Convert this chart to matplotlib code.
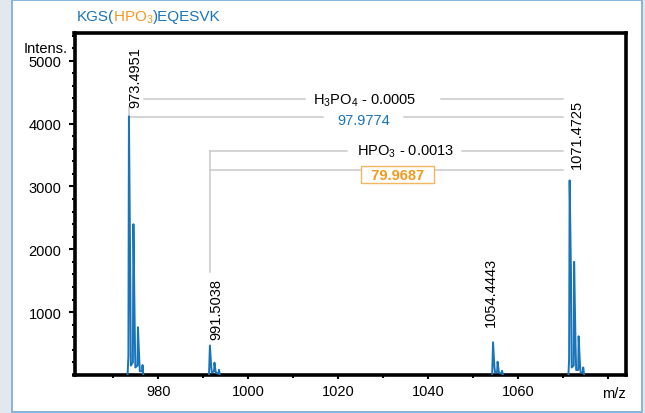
import matplotlib
matplotlib.use('Agg')
import matplotlib.pyplot as plt
from matplotlib.patches import Rectangle
from matplotlib.ticker import MultipleLocator

plt.rcParams['font.family'] = ['Liberation Sans', 'DejaVu Sans']
plt.rcParams['mathtext.fontset'] = 'custom'
plt.rcParams['mathtext.rm'] = 'Liberation Sans'

# profile spectrum (m/z, intensity)
c973_mz = [973.20, 973.38, 973.50, 973.80, 973.92, 974.38, 974.50, 974.80, 974.92,
           975.40, 975.50, 975.80, 975.92, 976.42, 976.52, 976.70]
c973_int = [0, 300, 4115, 1550, 150, 200, 2400, 700, 120,
            150, 760, 250, 60, 60, 158, 0]
c991_mz = [991.30, 991.50, 991.80, 991.95, 992.42, 992.51, 992.80, 993.40, 993.51, 993.70]
c991_int = [0, 470, 120, 40, 60, 195, 40, 20, 83, 0]
c1054_mz = [1054.25, 1054.44, 1054.75, 1054.90, 1055.35, 1055.45, 1055.75, 1056.35, 1056.45, 1056.65]
c1054_int = [0, 520, 130, 40, 50, 211, 40, 20, 67, 0]
c1071_mz = [1071.20, 1071.35, 1071.47, 1071.80, 1071.92, 1072.38, 1072.47, 1072.78, 1072.92,
            1073.38, 1073.47, 1073.78, 1073.92, 1074.40, 1074.49, 1074.70]
c1071_int = [0, 250, 3096, 1480, 120, 150, 1800, 500, 80,
             80, 616, 150, 40, 40, 120, 0]

peak_labels = ['973.4951', '991.5038', '1054.4443', '1071.4725']
peak_mz = [973.4951, 991.5038, 1054.4443, 1071.4725]
peak_int = [4115, 470, 520, 3096]

xticks = [980, 1000, 1020, 1040, 1060, 1080]
xticklabels = ['980', '1000', '1020', '1040', '1060', '']
yticks = [1000, 2000, 3000, 4000, 5000]

blue = '#1a74ba'
orange = '#f29a1f'
grey = '#c9c9c9'

fig = plt.figure(figsize=(6.45, 4.14), dpi=100)
fig.patch.set_facecolor('#e3e8ee')
fig.patches.append(Rectangle((12 / 645, 1 / 414), 630 / 645, 412 / 414, transform=fig.transFigure,
                             facecolor='white', edgecolor='#86b4db', linewidth=1.4, zorder=-5))

ax = fig.add_axes([74.5 / 645, 38 / 414, 551.5 / 645, 342.5 / 414])
ax.set_xlim(961.4, 1084)
ax.set_ylim(0, 5450)

for mz, inten in [(c973_mz, c973_int), (c991_mz, c991_int), (c1054_mz, c1054_int), (c1071_mz, c1071_int)]:
    ax.plot(mz, inten, color=blue, lw=1.4, zorder=3)

for s in ax.spines.values():
    s.set_linewidth(2.6)
ax.set_xticks(xticks)
ax.set_xticklabels(xticklabels)
ax.set_yticks(yticks)
ax.xaxis.set_minor_locator(MultipleLocator(10))
ax.yaxis.set_minor_locator(MultipleLocator(200))
ax.tick_params(axis='both', which='major', direction='out', width=1.5, labelsize=10.5)
ax.tick_params(axis='x', which='major', length=3.2, pad=3.5)
ax.tick_params(axis='y', which='major', length=4, pad=5.5)
ax.tick_params(axis='x', which='minor', length=2, width=1.5)
ax.tick_params(axis='y', which='minor', length=2.5, width=1.5)

ax.text(-0.012, 0.955, 'Intens.', transform=ax.transAxes, ha='right', va='center', fontsize=10.5)
ax.text(1.0, -0.052, 'm/z', transform=ax.transAxes, ha='right', va='center', fontsize=10.5)

# peak labels
label_bottom = [4259, 574, 787, 3299]
label_dx = [-1, -1, -9, 0]
for lab, mz, yb, dx in zip(peak_labels, peak_mz, label_bottom, label_dx):
    ax.annotate(lab, xy=(mz, yb), xytext=(dx, 0), textcoords='offset pixels',
                rotation=90, ha='left', va='bottom', fontsize=10.5)

# connector / bracket lines
lk = dict(color=grey, lw=1.1, zorder=2)
ax.plot([973.4951, 973.4951], [4100, 4259], **lk)
ax.plot([976.9, 1012.7], [4387, 4387], **lk)
ax.plot([1042.9, 1070.0], [4387, 4387], **lk)
ax.plot([973.4951, 1016.6], [4098, 4098], **lk)
ax.plot([1034.7, 1070.0], [4098, 4098], **lk)
ax.plot([991.5038, 991.5038], [1635, 3571], **lk)
ax.plot([991.5038, 1022.0], [3571, 3571], **lk)
ax.plot([1047.6, 1070.0], [3571, 3571], **lk)
ax.plot([991.5038, 1070.0], [3256, 3256], **lk)

ax.text(1025.8, 4387, r'H$_{\mathregular{3}}$PO$_{\mathregular{4}}$ - 0.0005', ha='center', va='center', fontsize=10.5)
ax.text(1025.6, 4060, '97.9774', ha='center', va='center', fontsize=10.5, color=blue)
ax.text(1034.9, 3571, r'HPO$_{\mathregular{3}}$ - 0.0013', ha='center', va='center', fontsize=10.5)
ax.text(1033.2, 3190, '  79.9687  ', ha='center', va='center', fontsize=10.5, color=orange,
        fontweight='bold', zorder=4,
        bbox=dict(boxstyle='square,pad=0.12', facecolor='white', edgecolor='#f5b660', lw=1.0))

# title in two colours
fig.canvas.draw()
r = fig.canvas.get_renderer()
x0, y0 = 77 / 645, 1 - 21 / 414
parts = [('KGS(', blue), (r'HPO$_{\mathregular{3}}$', orange), (')EQESVK', blue)]
for txt, col in parts:
    t = fig.text(x0, y0, txt, color=col, fontsize=11, ha='left', va='baseline')
    bb = t.get_window_extent(renderer=r)
    x0 = x0 + bb.width / fig.bbox.width - 1 / 645

fig.savefig('out.png', dpi=100, facecolor=fig.get_facecolor())
